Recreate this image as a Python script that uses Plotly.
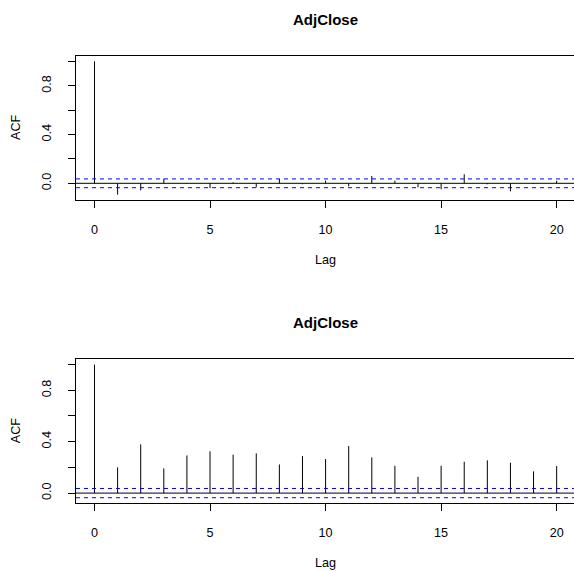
import plotly.graph_objects as go

# ---- data ----
lags = list(range(0, 21))
acf_top = [1.0, -0.093, -0.058, 0.038, -0.004, -0.040, 0.008, -0.033, 0.036, -0.008,
           0.022, -0.024, 0.060, 0.022, -0.033, -0.049, 0.074, -0.008, -0.066, -0.005, 0.021]
acf_bottom = [1.0, 0.200, 0.379, 0.192, 0.293, 0.325, 0.299, 0.309, 0.223, 0.288,
              0.265, 0.366, 0.278, 0.213, 0.127, 0.213, 0.244, 0.255, 0.236, 0.169, 0.210]
conf_limit = 0.036
titles = ["AdjClose", "AdjClose"]
x_ticks = [0, 5, 10, 15, 20]
y_ticks = [0.0, 0.2, 0.4, 0.6, 0.8, 1.0]
y_ticklabels = ["0.0", "", "0.4", "", "0.8", ""]

W, H = 574, 571
FONT = "Liberation Sans, Arial, Helvetica, sans-serif"

def py(pix):
    return (H - pix) / H

panels = [
    dict(vals=acf_top, top=56.0, bottom=200.0, yr=[-0.137, 1.044], title=titles[0]),
    dict(vals=acf_bottom, top=359.3, bottom=503.0, yr=[-0.077, 1.041], title=titles[1]),
]

fig = go.Figure()
annotations = []
shapes = []
for i, p in enumerate(panels):
    n = "" if i == 0 else str(i + 1)
    xs, ys = [], []
    for lag, v in zip(lags, p["vals"]):
        xs += [lag, lag, None]
        ys += [0, v, None]
    fig.add_trace(go.Scatter(x=xs, y=ys, mode="lines", line=dict(color="black", width=1),
                             xaxis="x" + n, yaxis="y" + n, showlegend=False, hoverinfo="skip"))
    xref = "x" + n
    yref = "y" + n
    shapes.append(dict(type="line", xref=xref + " domain", yref=yref, x0=0, x1=1, y0=0, y1=0,
                       line=dict(color="black", width=1)))
    for c in (conf_limit, -conf_limit):
        shapes.append(dict(type="line", xref=xref + " domain", yref=yref, x0=0, x1=1, y0=c, y1=c,
                           line=dict(color="blue", width=1, dash="4px,4px")))
    dom_y = [py(p["bottom"]), py(p["top"])]
    fig.update_layout(**{
        "xaxis" + n: dict(domain=[76 / W, 1], range=[-0.8, 20.75], tickvals=x_ticks,
                          ticktext=[str(t) for t in x_ticks], showline=True, mirror=True,
                          linecolor="black", linewidth=1, ticks="outside", ticklen=7,
                          tickcolor="black", showgrid=False, zeroline=False, anchor="y" + n,
                          tickfont=dict(family=FONT, size=12.6, color="black"),
                          ticklabelstandoff=11, automargin=False),
        "yaxis" + n: dict(domain=dom_y, range=p["yr"], tickvals=y_ticks, ticktext=y_ticklabels,
                          showline=True, linecolor="black", linewidth=1, ticks="outside",
                          ticklen=7, tickcolor="black", showgrid=False, zeroline=False,
                          tickangle=-90, anchor="x" + n, automargin=False,
                          tickfont=dict(family=FONT, size=12.6, color="black"),
                          ticklabelstandoff=12),
    })
    mid = (p["top"] + p["bottom"]) / 2
    annotations.append(dict(text="<b>" + p["title"] + "</b>", xref="paper", yref="paper",
                            x=(76 + 575) / 2 / W, y=py(p["top"] - 37), showarrow=False,
                            xanchor="center", yanchor="middle",
                            font=dict(family=FONT, size=15, color="black")))
    annotations.append(dict(text="Lag", xref="paper", yref="paper",
                            x=(76 + 575) / 2 / W, y=py(p["bottom"] + 60), showarrow=False,
                            xanchor="center", yanchor="middle",
                            font=dict(family=FONT, size=12.6, color="black")))
    annotations.append(dict(text="ACF", xref="paper", yref="paper", x=16 / W, y=py(mid),
                            showarrow=False, xanchor="center", yanchor="middle", textangle=-90,
                            font=dict(family=FONT, size=12.6, color="black")))

fig.update_layout(width=W, height=H, margin=dict(l=0, r=0, t=0, b=0),
                  paper_bgcolor="white", plot_bgcolor="white",
                  annotations=annotations, shapes=shapes, showlegend=False)
fig.write_html("out.html", config={"displayModeBar": False},
               post_script="document.body.style.margin='0';document.body.style.overflow='hidden';")
